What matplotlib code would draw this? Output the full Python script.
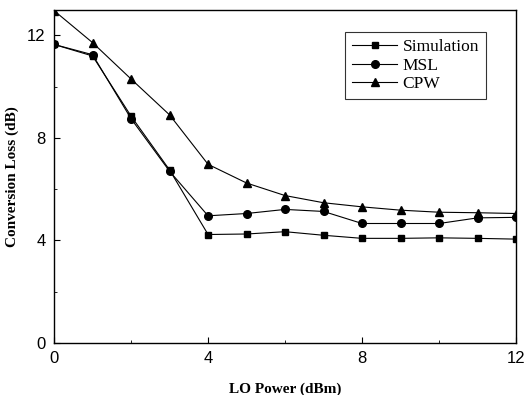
import matplotlib.pyplot as plt
from matplotlib.ticker import MultipleLocator

# LO power sweep (dBm)
lo_power = [0, 1, 2, 3, 4, 5, 6, 7, 8, 9, 10, 11, 12]

# Conversion loss (dB)
simulation = [11.65, 11.2, 8.85, 6.75, 4.23, 4.25, 4.34, 4.2, 4.08, 4.08, 4.1, 4.08, 4.05]
msl = [11.65, 11.25, 8.75, 6.7, 4.96, 5.05, 5.21, 5.13, 4.66, 4.66, 4.66, 4.88, 4.9]
cpw = [12.97, 11.72, 10.3, 8.9, 6.97, 6.24, 5.75, 5.47, 5.31, 5.18, 5.1, 5.08, 5.05]

fig = plt.figure(figsize=(5.25, 3.95), dpi=100)
ax = fig.add_axes([0.103, 0.132, 0.880, 0.843])

ax.plot(lo_power, simulation, color='black', lw=0.8, marker='s', ms=5, label='Simulation')
ax.plot(lo_power, msl, color='black', lw=0.8, marker='o', ms=5.5, label='MSL')
ax.plot(lo_power, cpw, color='black', lw=0.8, marker='^', ms=6, label='CPW')

ax.set_xlim(0, 12)
ax.set_ylim(0, 13)
ax.xaxis.set_major_locator(MultipleLocator(4))
ax.xaxis.set_minor_locator(MultipleLocator(2))
ax.yaxis.set_major_locator(MultipleLocator(4))
ax.yaxis.set_minor_locator(MultipleLocator(2))
ax.tick_params(which='both', direction='in', top=False, right=False)
ax.tick_params(which='major', length=4, labelsize=12, pad=6)
ax.tick_params(which='minor', length=2)
for lbl in ax.get_xticklabels() + ax.get_yticklabels():
    lbl.set_family('Liberation Sans')

for s in ax.spines.values():
    s.set_linewidth(1.0)

ax.set_xlabel('LO Power (dBm)', family='Liberation Serif', fontweight='bold', fontsize=11, labelpad=12)
ax.set_ylabel('Conversion Loss (dB)', family='Liberation Serif', fontweight='bold', fontsize=11, labelpad=6)

leg = ax.legend(loc='upper right', bbox_to_anchor=(0.935, 0.934), borderaxespad=0,
                prop={'family': 'Liberation Serif', 'size': 12.5},
                fancybox=False, edgecolor='black', handlelength=2.6, borderpad=0.4, labelspacing=0.15,
                handletextpad=0.3)
leg.get_frame().set_linewidth(0.8)

plt.savefig('out.png', dpi=100)
